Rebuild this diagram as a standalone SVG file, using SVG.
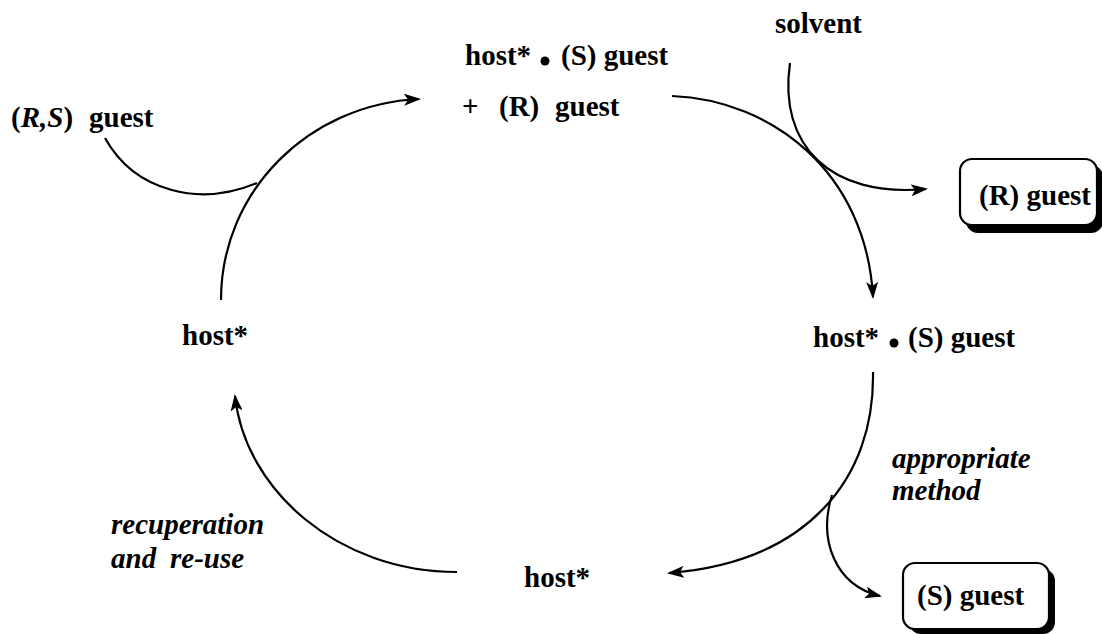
<svg xmlns="http://www.w3.org/2000/svg" width="1102" height="634" viewBox="0 0 1102 634">
<style>
.t{font-family:'Liberation Serif','DejaVu Serif',serif;font-weight:bold;font-size:29px;fill:#000}
.i{font-style:italic}
.c{fill:none;stroke:#000;stroke-width:2.2}
.box{fill:#fff;stroke:#000;stroke-width:2.2}
.sh{fill:#000}
</style>
<defs>
<marker id="ah" markerUnits="userSpaceOnUse" markerWidth="18" markerHeight="12" refX="15" refY="6" orient="auto" viewBox="0 0 18 12">
<path d="M0,0 L17,6 L0,12 L4,6 z" fill="#000"/>
</marker>
</defs>
<g id="connectors">
<path class="c" d="M221,300 C221,190 310,104 419,99" marker-end="url(#ah)"/>
<path class="c" d="M105,138 C135,192 200,207 257,183"/>
<path class="c" d="M672,96 C772,100 866,172 873,297" marker-end="url(#ah)"/>
<path class="c" d="M790,63 C778,145 830,198 926,189" marker-end="url(#ah)"/>
<path class="c" d="M873,372 C875,478 808,562 669,573" marker-end="url(#ah)"/>
<path class="c" d="M832,495 C818,540 835,585 880,596" marker-end="url(#ah)"/>
<path class="c" d="M457,572 C338,572 245,490 235,396" marker-end="url(#ah)"/>
</g>
<g id="racemic">
<text class="t" x="11" y="127">(<tspan class="i">R,S</tspan>)<tspan x="89">guest</tspan></text>
</g>
<g id="complex-top">
<text class="t" x="465" y="65">host*</text>
<circle cx="545" cy="61" r="4.5"/>
<text class="t" x="561" y="65">(S) guest</text>
<text class="t" x="462" y="116">+<tspan x="499">(R)</tspan><tspan x="555">guest</tspan></text>
</g>
<g id="solvent">
<text class="t" x="775" y="33">solvent</text>
</g>
<g id="r-guest">
<rect class="sh" x="966" y="165" width="137" height="68" rx="12"/>
<rect class="box" x="960" y="159" width="137" height="66" rx="12"/>
<text class="t" x="979" y="205">(R) guest</text>
</g>
<g id="complex-right">
<text class="t" x="813" y="347">host*</text>
<circle cx="894" cy="343" r="4.5"/>
<text class="t" x="908" y="347">(S) guest</text>
</g>
<g id="method-label">
<text class="t i" x="892" y="468">appropriate</text>
<text class="t i" x="892" y="500">method</text>
</g>
<g id="s-guest">
<rect class="sh" x="909" y="569" width="146" height="65" rx="12"/>
<rect class="box" x="903" y="563" width="146" height="66" rx="12"/>
<text class="t" x="917" y="605">(S) guest</text>
</g>
<g id="host-bottom">
<text class="t" x="524" y="587">host*</text>
</g>
<g id="reuse-label">
<text class="t i" x="111" y="534">recuperation</text>
<text class="t i" x="111" y="568">and<tspan x="170">re-use</tspan></text>
</g>
<g id="host-left">
<text class="t" x="182" y="345">host*</text>
</g>
</svg>
